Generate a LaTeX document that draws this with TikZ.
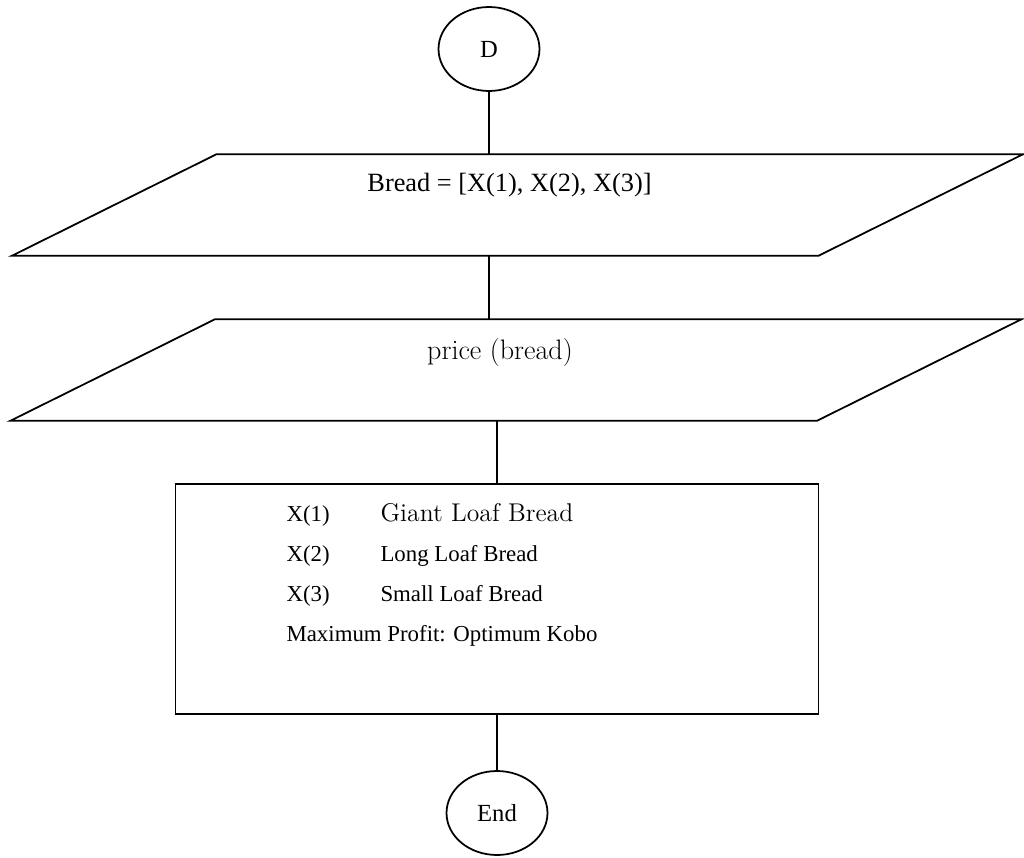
\documentclass[tikz,border=0pt]{standalone}
\usepackage{fontspec}
\newfontfamily\timesfont{Liberation Serif}
\usetikzlibrary{shapes.geometric,positioning}

\begin{document}
\begin{tikzpicture}[x=0.02cm, y=-0.02cm, line width=1pt,
	term/.style={draw, ellipse, minimum width=2.02cm, minimum height=1.68cm, inner sep=0pt, font=\timesfont\fontsize{14}{16}\selectfont},
	io/.style={minimum width=20.2cm, minimum height=2cm, inner sep=0pt},
	proc/.style={draw, rectangle, minimum width=12.86cm, minimum height=4.6cm}]
	\useasboundingbox (0,0) rectangle (1024,858);
	
	\node[term] (d) at (489,49) {D};
	\node[io, label={[xshift=-0.16cm, yshift=0.4cm, font=\timesfont\fontsize{15}{18}\selectfont]center:Bread = [X(1), X(2), X(3)]}] (bread) at (517.5,205) {};
	\node[io, label={[xshift=-0.32cm, yshift=0.36cm, font=\fontsize{16}{19}\selectfont]center:price (bread)}] (price) at (516,370) {};
	\node[proc] (box) at (497,599) {};
	\node[anchor=north west, inner sep=0pt, font=\timesfont\fontsize{13}{22.8}\selectfont] (list) at ([xshift=2.22cm, yshift=-0.18cm]box.north west) {%
		\begin{tabular}{@{}p{1.88cm}@{}l@{}}
			X(1) & {\normalfont\fontsize{14.6}{16}\selectfont Giant Loaf Bread}\\
			X(2) & Long Loaf Bread\\
			X(3) & Small Loaf Bread\\
			\multicolumn{2}{@{}l@{}}{Maximum Profit: Optimum Kobo}
		\end{tabular}};
	\node[term] (end) at (497,813) {End};
	
	% parallelograms
	\foreach \n in {bread,price}
		\draw ([xshift=4.1cm]\n.north west) -- (\n.north east) -- ([xshift=-4.1cm]\n.south east) -- (\n.south west) -- cycle;
	
	\draw (d) -- (d |- bread.north);
	\draw (bread.south -| d) -- (price.north -| d);
	\draw (price.south -| box) -- (box);
	\draw (box) -- (end);
\end{tikzpicture}
\end{document}
